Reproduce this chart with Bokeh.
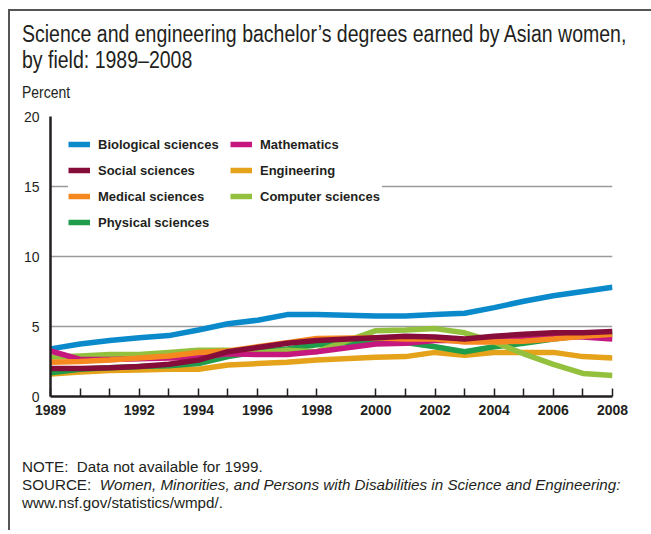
from bokeh.plotting import figure
from bokeh.layouts import column
from bokeh.models import (Range1d, FixedTicker, Legend, LegendItem, Div)
from bokeh.embed import file_html
from bokeh.resources import INLINE

# ---------------- data ----------------
years = [1989, 1990, 1991, 1992, 1993, 1994, 1995, 1996, 1997, 1998,
         2000, 2001, 2002, 2003, 2004, 2005, 2006, 2007, 2008]

biological = [3.4, 3.75, 4.0, 4.2, 4.35, 4.75, 5.2, 5.45, 5.85, 5.85,
              5.75, 5.75, 5.85, 5.95, 6.35, 6.8, 7.2, 7.5, 7.8]
social = [2.0, 2.0, 2.05, 2.15, 2.3, 2.6, 3.2, 3.5, 3.8, 4.0,
          4.2, 4.3, 4.25, 4.1, 4.3, 4.45, 4.55, 4.55, 4.65]
medical = [2.45, 2.5, 2.6, 2.75, 2.9, 3.15, 3.25, 3.55, 3.85, 4.15,
           4.2, 4.1, 4.1, 3.9, 3.9, 3.95, 4.1, 4.3, 4.45]
physical = [1.7, 1.95, 2.05, 2.15, 2.2, 2.35, 2.85, 3.2, 3.4, 3.7,
            4.0, 3.85, 3.55, 3.2, 3.55, 3.8, 4.1, 4.35, 4.5]
mathematics = [3.25, 2.65, 2.65, 2.7, 2.75, 2.8, 3.05, 3.0, 3.0, 3.2,
               3.75, 3.8, 4.0, 4.0, 4.1, 4.2, 4.3, 4.25, 4.1]
engineering = [1.6, 1.75, 1.85, 1.9, 1.95, 1.95, 2.25, 2.35, 2.45, 2.6,
               2.8, 2.85, 3.15, 2.95, 3.15, 3.15, 3.15, 2.85, 2.75]
computer = [2.8, 2.9, 3.0, 3.0, 3.15, 3.3, 3.3, 3.1, 3.3, 3.2,
            4.7, 4.75, 4.85, 4.55, 3.9, 3.05, 2.3, 1.65, 1.5]

tick_years = years
label_years = [1989, 1992, 1994, 1996, 1998, 2000, 2002, 2004, 2006, 2008]
y_ticks = [0, 5, 10, 15, 20]

title_1 = "Science and engineering bachelor\u2019s degrees earned by Asian women,"
title_2 = "by field: 1989\u20132008"
y_title = "Percent"
note_text = "NOTE:  Data not available for 1999."
source_lead = "SOURCE:  "
source_italic = "Women, Minorities, and Persons with Disabilities in Science and Engineering:"
source_url = "www.nsf.gov/statistics/wmpd/."

# ---------------- styling ----------------
BODY = "Liberation Sans"
BODY_CSS = "'Liberation Sans',Arial,sans-serif"
DARK = "#231f20"

series = [
    ("Biological sciences", biological, "#0a8acb"),
    ("Engineering", engineering, "#e5a21b"),
    ("Physical sciences", physical, "#1f9d4a"),
    ("Computer sciences", computer, "#93c13e"),
    ("Mathematics", mathematics, "#c5177d"),
    ("Medical sciences", medical, "#f5891f"),
    ("Social sciences", social, "#860c3a"),
]
legend_order = ["Biological sciences", "Social sciences", "Medical sciences",
                "Physical sciences", "Mathematics", "Engineering", "Computer sciences"]

FIG_W, FIG_H = 641, 330
p = figure(width=FIG_W, height=FIG_H, output_backend="svg", toolbar_location=None,
           x_range=Range1d(1989, 2008), y_range=Range1d(0, 20),
           min_border_left=40, min_border_right=39,
           min_border_top=16, min_border_bottom=34)
p.outline_line_color = None
p.background_fill_color = "white"
p.border_fill_color = "white"
p.xgrid.grid_line_color = None
p.ygrid.grid_line_color = "#9a9a9a"
p.ygrid.grid_line_width = 1.5

p.yaxis.ticker = FixedTicker(ticks=y_ticks)
p.yaxis.axis_line_color = DARK
p.yaxis.axis_line_width = 2.5
p.yaxis.major_tick_in = 0
p.yaxis.major_tick_out = 0
p.yaxis.minor_tick_line_color = None
p.yaxis.major_label_standoff = 11
p.yaxis.major_label_text_font = BODY
p.yaxis.major_label_text_font_size = "14px"
p.yaxis.major_label_text_color = DARK

p.xaxis.ticker = FixedTicker(ticks=tick_years)
p.xaxis.major_label_overrides = {y: (str(y) if y in label_years else "") for y in tick_years}
p.xaxis.axis_line_color = DARK
p.xaxis.axis_line_width = 2.5
p.xaxis.major_tick_in = 8
p.xaxis.major_tick_out = 0
p.xaxis.major_tick_line_color = DARK
p.xaxis.major_tick_line_width = 1.5
p.xaxis.minor_tick_line_color = None
p.xaxis.major_label_standoff = 8
p.xaxis.major_label_text_font = BODY
p.xaxis.major_label_text_font_style = "bold"
p.xaxis.major_label_text_font_size = "14px"
p.xaxis.major_label_text_color = DARK

renderers = {}
for name, vals, col in series:
    r = p.line(years, vals, line_color=col, line_width=5.5, line_join="round")
    renderers[name] = r

legend = Legend(items=[LegendItem(label=n, renderers=[renderers[n]]) for n in legend_order],
                location=(18, 166), orientation="vertical", nrows=4,
                margin=0, padding=5, spacing=10,
                glyph_width=22, glyph_height=16, label_height=16,
                label_standoff=8, label_width=122,
                label_text_font=BODY, label_text_font_style="bold",
                label_text_font_size="13px", label_text_color=DARK,
                border_line_color=None, background_fill_color="white",
                background_fill_alpha=1.0)
p.add_layout(legend, "center")

def span(top, size, text, family, scale=None):
    extra = ""
    if scale is not None:
        extra = f"transform:scaleX({scale});transform-origin:0 0;"
    return (f'<div style="position:absolute;left:12px;top:{top}px;white-space:pre;'
            f'font-family:{family};font-size:{size}px;line-height:{size}px;color:{DARK};{extra}">'
            f'{text}</div>')

title_html = ('<div style="position:relative;width:641px;height:89px;">'
              + span(12.1, 23.5, title_1, BODY_CSS, 0.83)
              + span(38.1, 23.5, title_2, BODY_CSS, 0.83)
              + span(72.6, 17, y_title, BODY_CSS, 0.82)
              + '</div>')
notes_html = ('<div style="position:relative;width:641px;height:100px;">'
              + span(29.1, 15.2, note_text, BODY_CSS)
              + span(47.1, 15.2, source_lead + "<i>" + source_italic + "</i>", BODY_CSS)
              + span(65.1, 15.2, source_url, BODY_CSS)
              + '</div>')

title_div = Div(text=title_html, width=641, height=89, margin=0)
notes_div = Div(text=notes_html, width=641, height=100, margin=0)

page = column(title_div, p, notes_div, margin=(9, 0, 0, 8), spacing=0,
              styles={"border-top": "2px solid #555555", "border-left": "2px solid #555555"})

open("out.html", "w").write(file_html(page, INLINE))
